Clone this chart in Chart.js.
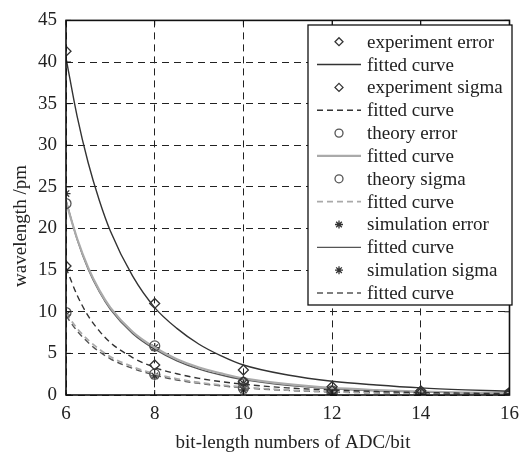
<!DOCTYPE html>
<html>
<head>
<meta charset="utf-8">
<script src="https://cdn.jsdelivr.net/npm/chart.js@4.4.1/dist/chart.umd.min.js"></script>
<style>
  html, body { margin: 0; padding: 0; background: #fff; }
  #chart { display: block; }
</style>
</head>
<body>
<canvas id="chart" width="527" height="454"></canvas>
<script>
// Measured points (bit length -> wavelength /pm)
const bits = [6, 8, 10, 12, 14, 16];
const expError = [41.3, 11.0, 3.0, 1.0, 0.5, 0.3];
const expSigma = [15.5, 3.6, 1.6, 0.5, 0.25, 0.15];
const theoryError = [23.0, 5.9, 1.5, 0.5, 0.25, 0.15];
const theorySigma = [9.9, 2.5, 0.8, 0.25, 0.1, 0.05];
const simError = [24.2, 5.7, 1.4, 0.4, 0.2, 0.1];
const simSigma = [9.6, 2.3, 0.6, 0.2, 0.1, 0.05];

// Fitted curves
const fitBits = [6, 6.25, 6.5, 6.75, 7, 7.5, 8, 8.5, 9, 9.5, 10, 11, 12, 13, 14, 15, 16];
const expErrorFit = [40.5, 33.5, 27.9, 23.4, 19.7, 14.3, 10.5, 8.0, 6.1, 4.7, 3.6, 2.4, 1.65, 1.2, 0.85, 0.62, 0.45];
const expSigmaFit = [15.3, 12.0, 9.5, 7.7, 6.3, 4.5, 3.3, 2.55, 2.0, 1.6, 1.3, 0.85, 0.6, 0.42, 0.3, 0.22, 0.16];
const theoryErrorFit = [23.2, 18.8, 15.3, 12.6, 10.5, 7.6, 5.7, 4.3, 3.3, 2.6, 2.0, 1.3, 0.85, 0.6, 0.42, 0.3, 0.22];
const theorySigmaFit = [9.8, 8.0, 6.6, 5.5, 4.6, 3.4, 2.55, 1.95, 1.5, 1.2, 0.95, 0.6, 0.4, 0.28, 0.2, 0.15, 0.11];
const simErrorFit = [23.4, 18.7, 15.1, 12.4, 10.3, 7.4, 5.5, 4.1, 3.1, 2.4, 1.85, 1.15, 0.75, 0.5, 0.35, 0.25, 0.18];
const simSigmaFit = [9.5, 7.7, 6.3, 5.2, 4.35, 3.2, 2.4, 1.8, 1.4, 1.1, 0.85, 0.55, 0.36, 0.25, 0.18, 0.13, 0.1];

const xTitle = 'bit-length numbers of ADC/bit';
const yTitle = 'wavelength /pm';

const SERIF = '"Liberation Serif", "Times New Roman", serif';
const DARK = '#333';
const MID = '#555';
const LIGHT = '#aaa';

function pts(xs, ys) {
    return xs.map((x, i) => ({ x: x, y: ys[i] }));
}

function markerSet(label, ys, style, color, radius) {
    return {
        label: label,
        data: pts(bits, ys),
        showLine: false,
        pointStyle: style,
        pointRadius: radius,
        pointBorderColor: color,
        pointBackgroundColor: 'rgba(0,0,0,0)',
        pointBorderWidth: 1.3,
        borderColor: color
    };
}

function fitSet(ys, color, dash, width) {
    return {
        label: 'fitted curve',
        data: pts(fitBits, ys),
        borderColor: color,
        borderWidth: width,
        borderDash: dash,
        pointRadius: 0,
        cubicInterpolationMode: 'monotone',
        fill: false
    };
}

const datasets = [
    markerSet('experiment error', expError, 'rectRot', DARK, 5),
    fitSet(expErrorFit, DARK, [], 1.4),
    markerSet('experiment sigma', expSigma, 'rectRot', DARK, 5),
    fitSet(expSigmaFit, DARK, [6, 4], 1.4),
    markerSet('theory error', theoryError, 'circle', MID, 5),
    fitSet(theoryErrorFit, LIGHT, [], 2.2),
    markerSet('theory sigma', theorySigma, 'circle', MID, 5),
    fitSet(theorySigmaFit, LIGHT, [6, 4], 1.8),
    markerSet('simulation error', simError, 'star', DARK, 4.5),
    fitSet(simErrorFit, MID, [], 1.4),
    markerSet('simulation sigma', simSigma, 'star', DARK, 4.5),
    fitSet(simSigmaFit, MID, [6, 4], 1.4)
];

// frame, inward ticks, axis titles and legend box
const decorPlugin = {
    id: 'decor',
    afterDraw(chart) {
        const ctx = chart.ctx;
        const a = chart.chartArea;
        const xs = chart.scales.x, ys = chart.scales.y;
        ctx.save();

        // frame
        ctx.strokeStyle = '#111';
        ctx.lineWidth = 1.6;
        ctx.setLineDash([]);
        ctx.strokeRect(a.left, a.top, a.right - a.left, a.bottom - a.top);

        // inward tick marks
        ctx.lineWidth = 1;
        ctx.beginPath();
        xs.ticks.forEach(t => {
            const px = xs.getPixelForValue(t.value);
            ctx.moveTo(px, a.bottom); ctx.lineTo(px, a.bottom - 5);
            ctx.moveTo(px, a.top); ctx.lineTo(px, a.top + 5);
        });
        ys.ticks.forEach(t => {
            const py = ys.getPixelForValue(t.value);
            ctx.moveTo(a.left, py); ctx.lineTo(a.left + 5, py);
            ctx.moveTo(a.right, py); ctx.lineTo(a.right - 5, py);
        });
        ctx.stroke();

        // axis titles
        ctx.fillStyle = '#222';
        ctx.font = '19px ' + SERIF;
        ctx.textAlign = 'center';
        ctx.textBaseline = 'middle';
        ctx.fillText(xTitle, 293, 443);
        ctx.translate(21, 226);
        ctx.rotate(-Math.PI / 2);
        ctx.fillText(yTitle, 0, 0);
        ctx.setTransform(1, 0, 0, 1, 0, 0);

        // legend
        const lx = 308, ly = 25, lw = 204, lh = 280;
        ctx.fillStyle = '#fff';
        ctx.fillRect(lx, ly, lw, lh);
        ctx.strokeStyle = '#111';
        ctx.lineWidth = 1.3;
        ctx.strokeRect(lx, ly, lw, lh);

        const rowH = 22.85, firstY = 41.7;
        ctx.font = '19px ' + SERIF;
        ctx.textAlign = 'left';
        chart.data.datasets.forEach((ds, i) => {
            const cy = firstY + i * rowH;
            const cx = 339;
            if (ds.showLine === false) {
                ctx.strokeStyle = ds.pointBorderColor;
                ctx.lineWidth = 1.3;
                ctx.setLineDash([]);
                const r = 4;
                ctx.beginPath();
                if (ds.pointStyle === 'rectRot') {
                    ctx.moveTo(cx, cy - r); ctx.lineTo(cx + r, cy);
                    ctx.lineTo(cx, cy + r); ctx.lineTo(cx - r, cy);
                    ctx.closePath();
                } else if (ds.pointStyle === 'circle') {
                    ctx.arc(cx, cy, r, 0, Math.PI * 2);
                } else {
                    for (let k = 0; k < 4; k++) {
                        const ang = k * Math.PI / 4;
                        ctx.moveTo(cx - r * Math.cos(ang), cy - r * Math.sin(ang));
                        ctx.lineTo(cx + r * Math.cos(ang), cy + r * Math.sin(ang));
                    }
                }
                ctx.stroke();
            } else {
                ctx.strokeStyle = ds.borderColor;
                ctx.lineWidth = ds.borderWidth;
                ctx.setLineDash(ds.borderDash || []);
                ctx.beginPath();
                ctx.moveTo(317, cy); ctx.lineTo(361, cy);
                ctx.stroke();
                ctx.setLineDash([]);
            }
            ctx.fillStyle = '#222';
            ctx.fillText(ds.label, 367, cy + 1);
        });
        ctx.restore();
    }
};

new Chart(document.getElementById('chart'), {
    type: 'line',
    data: { datasets: datasets },
    plugins: [decorPlugin],
    options: {
        responsive: false,
        animation: false,
        layout: { padding: { top: 17, right: 9, left: 0, bottom: 0 } },
        plugins: { legend: { display: false }, tooltip: { enabled: false } },
        scales: {
            x: {
                type: 'linear',
                min: 6, max: 16,
                ticks: { stepSize: 2, color: '#222', padding: 8, font: { family: SERIF, size: 19 } },
                grid: { color: '#222', lineWidth: 1, drawTicks: false },
                border: { display: false, dash: [7, 5] },
                afterFit(scale) { scale.height = 59; }
            },
            y: {
                min: 0, max: 45,
                ticks: { stepSize: 5, color: '#222', padding: 9, font: { family: SERIF, size: 19 } },
                grid: { color: '#222', lineWidth: 1, drawTicks: false },
                border: { display: false, dash: [7, 5] },
                afterFit(scale) { scale.width = 66; }
            }
        }
    }
});
</script>
</body>
</html>
